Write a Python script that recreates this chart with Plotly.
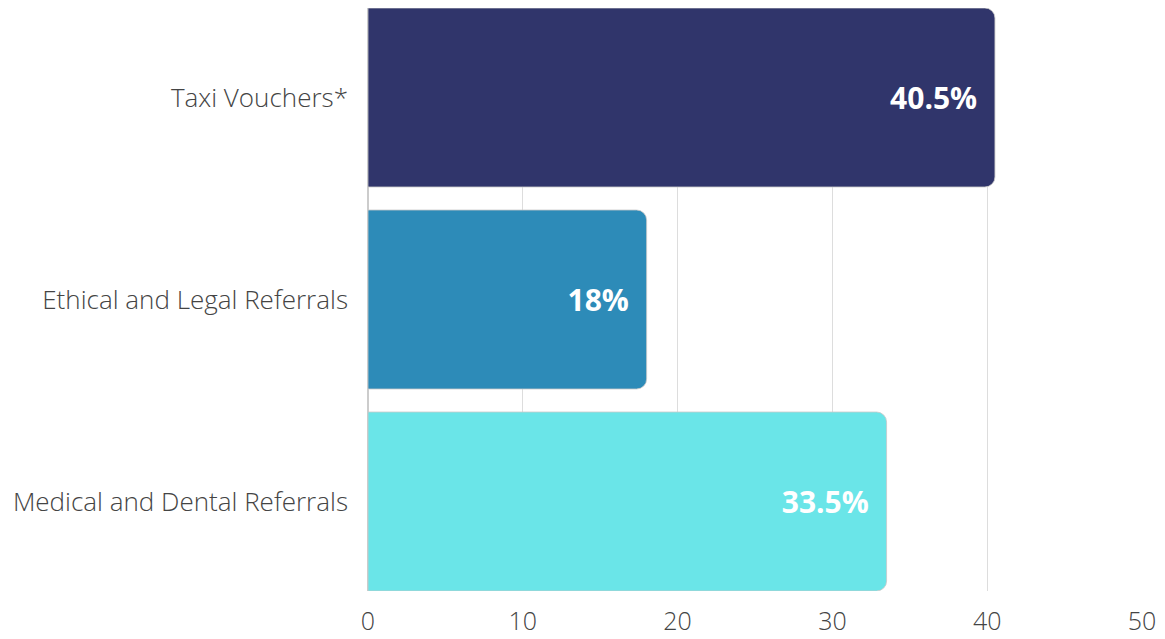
import plotly.graph_objects as go

# Data
categories = ["Taxi Vouchers*", "Ethical and Legal Referrals", "Medical and Dental Referrals"]
values = [40.5, 18, 33.5]
colors = ["#30356b", "#2d8bb8", "#6ae5e8"]
x_ticks = [0, 10, 20, 30, 40, 50]

fig = go.Figure()
fig.add_trace(go.Bar(
    y=categories,
    x=values,
    orientation="h",
    width=0.886,
    marker=dict(color=colors, cornerradius=10, line=dict(color="rgba(200,200,200,0.8)", width=1)),
    text=[f"{v:g}%\u00a0" for v in values],
    textposition="inside",
    insidetextanchor="end",
    textfont=dict(family="Open Sans", size=30, color="white", weight=700),
    hoverinfo="skip",
))

fig.update_layout(
    width=1165,
    height=639,
    margin=dict(l=368, r=23, t=8, b=48),
    plot_bgcolor="white",
    paper_bgcolor="white",
    showlegend=False,
    font=dict(family="Open Sans", color="#444"),
)
fig.update_xaxes(
    range=[0, 50],
    tickvals=x_ticks,
    showgrid=True,
    gridcolor="#dddddd",
    gridwidth=1,
    zeroline=True,
    zerolinecolor="#cccccc",
    tickfont=dict(family="Open Sans", size=25, color="#444", weight=300),
    ticklabelstandoff=13,
    automargin=False,
)
fig.update_yaxes(
    type="category",
    categoryorder="array",
    categoryarray=categories,
    range=[2.443, -0.443],
    showgrid=False,
    tickfont=dict(family="Open Sans", size=26, color="#444", weight=300),
    ticklabelstandoff=19,
    automargin=False,
)

# remove the default page margin so the chart sits at the window origin
fig.write_html("out.html", config={"displayModeBar": False},
               post_script="document.body.style.margin='0';")
